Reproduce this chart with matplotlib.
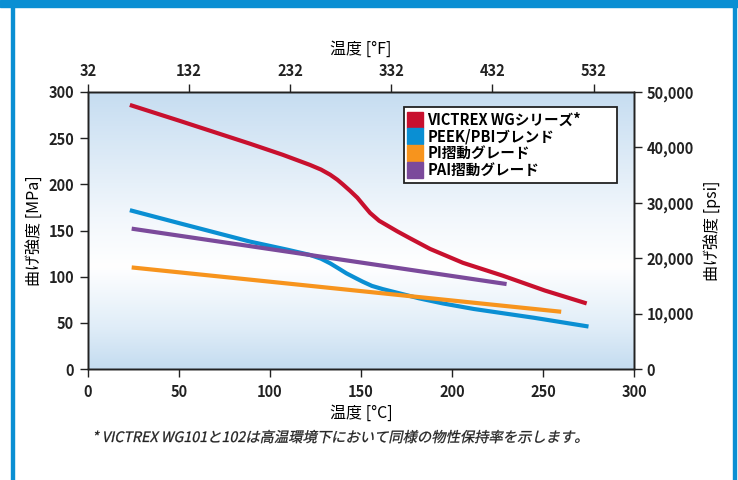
import matplotlib
matplotlib.use("Agg")
import numpy as np
import matplotlib.pyplot as plt
from matplotlib.colors import LinearSegmentedColormap
from matplotlib.patches import Rectangle, PathPatch
from matplotlib.lines import Line2D
from matplotlib.textpath import TextPath
from matplotlib.font_manager import FontProperties
from matplotlib.transforms import Affine2D

plt.rcParams["font.family"] = ["Noto Sans CJK JP", "DejaVu Sans"]

# data (temperature in degC, strength in MPa)
wg_temp = [23, 50, 89, 107, 122, 128, 133, 137, 140, 144, 148, 152, 155, 160, 170, 177, 188, 206, 228, 251, 274]
wg_mpa = [286, 269, 244, 232, 221, 216, 210.5, 205, 200, 193, 185.5, 176, 169, 160.5, 149, 141.5, 130, 115, 101, 85, 71]

blend_temp = [23, 50, 89, 110, 122, 128, 133, 138, 142, 147, 151, 156, 162, 170, 182, 195, 212, 245, 275]
blend_mpa = [172, 158, 138, 129, 123.5, 119.5, 114.5, 108.5, 103.6, 98.5, 94.5, 90, 86.5, 82.5, 76.5, 71, 65, 55.5, 46]

pi_temp = [24, 260]
pi_mpa = [110, 62]

pai_temp = [24, 230]
pai_mpa = [152, 92]

series_names = ["VICTREX WGシリーズ*", "PEEK/PBIブレンド", "PI摺動グレード", "PAI摺動グレード"]
series_colors = ["#c8102e", "#0a8fd3", "#f7941d", "#7b4a9b"]

f_ticks = [32, 132, 232, 332, 432, 532]
psi_ticks = [0, 10000, 20000, 30000, 40000, 50000]

footnote = "* VICTREX WG101と102は高温環境下において同様の物性保持率を示します。"

fig = plt.figure(figsize=(7.38, 4.80), dpi=100)

# outer blue frame
frame_col = "#0a8fd3"
fig.patches.append(Rectangle((0, 1 - 7 / 480), 1, 7 / 480, transform=fig.transFigure,
                             color=frame_col, zorder=0))
fig.patches.append(Rectangle((11 / 738, 0), 3 / 738, 1, transform=fig.transFigure,
                             color=frame_col, zorder=0))
fig.patches.append(Rectangle((733 / 738, 0), 3 / 738, 1, transform=fig.transFigure,
                             color=frame_col, zorder=0))

ax = fig.add_axes([88 / 738, 1 - 369 / 480, 546 / 738, 277 / 480])

# background gradient: light blue top and bottom, white in the middle
grad = LinearSegmentedColormap.from_list(
    "bg", [(0, "#c4dcf0"), (0.15, "#e0edf8"), (0.37, "#ffffff"), (0.55, "#f2f7fc"), (1, "#c6ddf1")]
)
g = np.linspace(0, 1, 256).reshape(-1, 1)
ax.imshow(g, cmap=grad, extent=[0, 300, 300, 0], aspect="auto", zorder=0)
ax.set_xlim(0, 300)
ax.set_ylim(0, 300)

for tx, ty, c in [(wg_temp, wg_mpa, series_colors[0]),
                  (blend_temp, blend_mpa, series_colors[1]),
                  (pi_temp, pi_mpa, series_colors[2]),
                  (pai_temp, pai_mpa, series_colors[3])]:
    ax.plot(tx, ty, color=c, lw=3.0, solid_capstyle="butt", solid_joinstyle="round", zorder=3)

tick_font = dict(fontsize=10.5, fontweight="bold")
ax.set_xticks(range(0, 301, 50))
ax.set_yticks(range(0, 301, 50))
ax.set_xticklabels([str(v) for v in range(0, 301, 50)], **tick_font)
ax.set_yticklabels([str(v) for v in range(0, 301, 50)], **tick_font)
ax.tick_params(direction="out", length=6, width=1, colors="#222222", pad=4)
ax.tick_params(axis="x", pad=5)
for s in ax.spines.values():
    s.set_linewidth(1.0)
    s.set_color("#222222")
ax.set_xlabel("温度 [°C]", fontsize=11.5, labelpad=3)
ax.set_ylabel("曲げ強度 [MPa]", fontsize=11.5, labelpad=3)

# top axis in degF
axt = ax.twiny()
axt.set_xlim(0, 300)
axt.set_xticks([(f - 32) * 5 / 9 for f in f_ticks])
axt.set_xticklabels([str(f) for f in f_ticks], **tick_font)
axt.tick_params(direction="out", length=6, width=1, colors="#222222", pad=3)
axt.set_xlabel("温度 [°F]", fontsize=11.5, labelpad=7)

# right axis in psi
axr = ax.twinx()
axr.set_ylim(0, 50000)
axr.set_yticks(psi_ticks)
axr.set_yticklabels([f"{v:,}" for v in psi_ticks], **tick_font)
axr.tick_params(direction="out", length=6, width=1, colors="#222222", pad=3)
axr.set_ylabel("曲げ強度 [psi]", fontsize=11.5, labelpad=7)
for a in (axt, axr):
    for s in a.spines.values():
        s.set_linewidth(1.0)
        s.set_color("#222222")

handles = [Line2D([], [], marker="s", ms=11, color=c, lw=0) for c in series_colors]
leg = axr.legend(handles, series_names, loc="upper left",
                 bbox_to_anchor=(0.579, 0.675, 0.39, 0.272), mode="expand",
                 fancybox=False, framealpha=1, edgecolor="#222222", handlelength=0.8,
                 handletextpad=0.45, labelspacing=0.05, borderpad=0.35, borderaxespad=0,
                 prop=dict(size=10.5, weight="bold"))
leg.get_frame().set_linewidth(1.3)
leg.set_zorder(5)

# italic footnote: skew the glyph outlines (CJK font has no italic face)
fp = FontProperties(family=["Noto Sans CJK JP", "DejaVu Sans"], size=10.3)
tp = TextPath((0, 0), footnote, prop=fp)
tr = Affine2D().skew_deg(12, 0).scale(100 / 72).translate(92, 480 - 442)
fig.patches.append(PathPatch(tp, transform=tr, facecolor="#222222", edgecolor="#222222", lw=0.2))

fig.savefig("out.png", dpi=100)
